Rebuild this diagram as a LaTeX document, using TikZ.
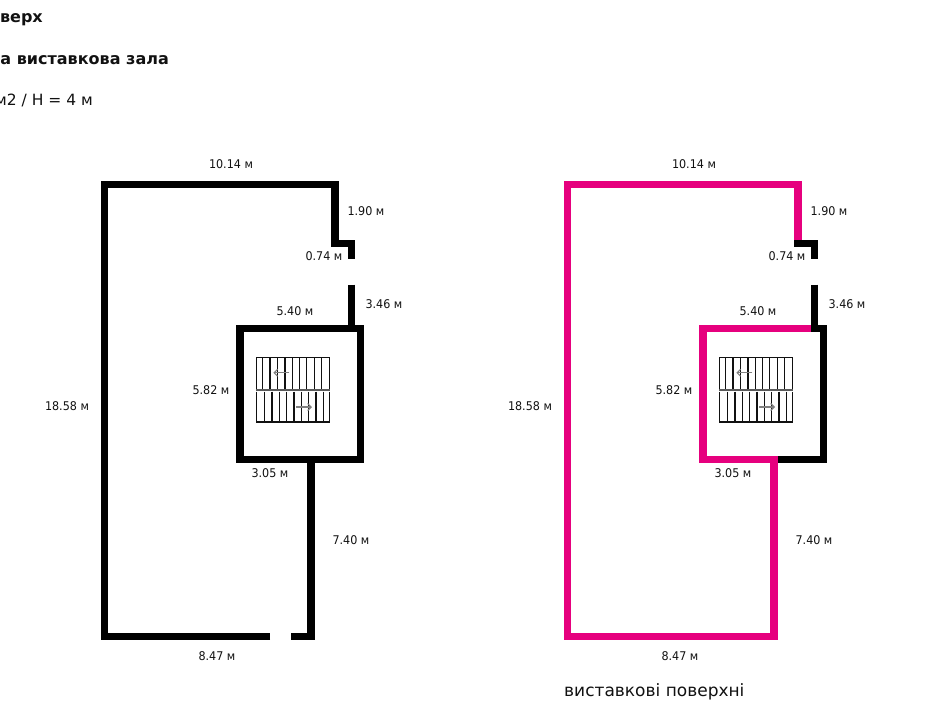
\documentclass[tikz,border=0pt]{standalone}
\usepackage{fontspec}
\setmainfont{DejaVu Sans}
\newfontfamily\dimfont[FakeStretch=0.93]{DejaVu Sans}
\definecolor{pinkwall}{HTML}{E6007E}
\definecolor{ink}{HTML}{111111}
\definecolor{arrowgray}{HTML}{808080}
\usetikzlibrary{arrows.meta}
\tikzset{
  wall/.style={line width=7.4pt,line join=miter,line cap=butt},
  dim/.style={font=\dimfont\fontsize{12}{14}\selectfont,text=ink,inner sep=0pt},
  head/.style={font=\fontsize{16}{19}\selectfont\bfseries,text=ink,inner sep=0pt,anchor=base east},
  headlight/.style={font=\fontsize{15.5}{18}\selectfont,text=ink,inner sep=0pt,anchor=base east},
  tread/.style={line width=1.5pt,draw=ink},
  flow/.style={line width=1.4pt,draw=arrowgray,-{Straight Barb[length=3.5pt,width=7pt,line width=1.1pt]}},
}
\newcommand{\stairset}{%
  \foreach \sx in {256.7,262.7,270,277.3,285,292.7,299.3,306.7,314.3,321.7,329.3}
    \draw[tread] (\sx,357.3) -- (\sx,389);
  \foreach \sx in {256.7,264.7,272,279.3,286.7,294,301.3,308.7,316,323.3,329.3}
    \draw[tread] (\sx,391.5) -- (\sx,422);
  \draw[tread] (256,357.3) -- (330,357.3);
  \draw[tread] (256,422) -- (330,422);
  \draw[line width=2.4pt,draw=arrowgray!70!black] (256,390.2) -- (330,390.2);
  \draw[flow] (289.3,372.7) -- (273.3,372.7);
  \draw[flow] (296,407) -- (312,407);
}
\newcommand{\dimset}{%
  \node[dim] (d1) at (231,164) {10.14 м};
  \node[dim] (d2) at (366,211.5) {1.90 м};
  \node[dim] (d3) at (324,256) {0.74 м};
  \node[dim] (d4) at (384,304) {3.46 м};
  \node[dim] (d5) at (295,311) {5.40 м};
  \node[dim] (d6) at (211,390) {5.82 м};
  \node[dim] (d7) at (67,406) {18.58 м};
  \node[dim] (d8) at (270,473) {3.05 м};
  \node[dim] (d9) at (351,540) {7.40 м};
  \node[dim] (d10) at (217,656) {8.47 м};
}
\begin{document}
\begin{tikzpicture}[x=1pt,y=-1pt]
\useasboundingbox (0,0) rectangle (947,725);
\clip (0,0) rectangle (947,725);
% headings
\node[head] (h1) at (43,23) {верх};
\node[head] (h2) at (169,64) {а виставкова зала};
\node[headlight] (h3) at (93,105.5) {м2 / H = 4 м};
% left plan
\draw[wall,draw=black] (270,636.3) -- (104.3,636.3) -- (104.3,184.4) -- (335,184.4) -- (335,243.5) -- (351.7,243.5) -- (351.7,258.7);
\draw[wall,draw=black] (351.7,284.7) -- (351.7,328.7);
\draw[wall,draw=black] (239.8,328.7) rectangle (360.6,459.7);
\draw[wall,draw=black] (291,636.3) -- (311,636.3) -- (311,459.7);
\stairset
\dimset
% right plan
\begin{scope}[xshift=463pt]
\draw[wall,draw=black] (331.3,243.5) -- (351.7,243.5) -- (351.7,258.7);
\draw[wall,draw=black] (351.7,284.7) -- (351.7,332);
\draw[wall,draw=black] (348,328.7) -- (360.6,328.7) -- (360.6,459.7) -- (311,459.7);
\draw[wall,draw=pinkwall] (335,240) -- (335,184.4) -- (104.3,184.4) -- (104.3,636.3) -- (311,636.3) -- (311,459.7) -- (239.8,459.7) -- (239.8,328.7) -- (348.3,328.7);
\stairset
\dimset
\end{scope}
\node[font=\fontsize{17}{20}\selectfont,text=ink,inner sep=0pt,anchor=base west] (cap) at (564,696) {виставкові поверхні};
\end{tikzpicture}
\end{document}
